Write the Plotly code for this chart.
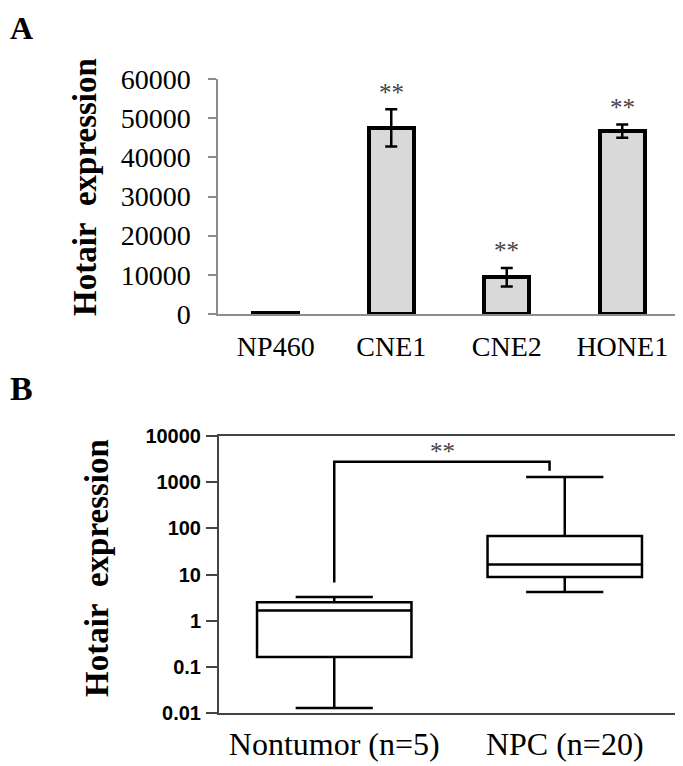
import numpy as np
import plotly.graph_objects as go

# Panel A: cell lines, Hotair expression (bar + SD)
cell_lines = ["NP460", "CNE1", "CNE2", "HONE1"]
expr_mean = [150, 47500, 9400, 46700]
expr_err = [0, 4750, 2350, 1700]
sig_a = ["", "**", "**", "**"]
yticks_a = [0, 10000, 20000, 30000, 40000, 50000, 60000]
ytick_text_a = ["0", "10000", "20000", "30000", "40000", "50000", "60000"]

# Panel B: tissue groups, box summary (log scale)
groups = ["Nontumor (n=5)", "NPC (n=20)"]
q1 = [0.163, 8.8]
median = [1.66, 16.4]
q3 = [2.52, 68.6]
low_whisker = [0.0128, 4.2]
high_whisker = [3.24, 1300]
yticks_b = [0.01, 0.1, 1, 10, 100, 1000, 10000]
ytick_text_b = ["0.01", "0.1", "1", "10", "100", "1000", "10000"]

# significance bracket between the two groups
bracket_x = [0, 0, 0.934, 0.934]
bracket_y = [6.7, 2780, 2780, 1775]

# the page body has an 8px margin, so the figure is shrunk to fit the window
OFF = 8
W, H = 683 - OFF, 766 - OFF
SERIF = "Liberation Serif, Times New Roman, serif"
SANS = "Liberation Sans, Arial, sans-serif"


def px(x):
    return (x - OFF) / W


def py(y):
    return 1 - (y - OFF) / H


fig = go.Figure()

fig.add_trace(
    go.Bar(
        x=cell_lines,
        y=expr_mean,
        width=0.39,
        marker=dict(color="#d9d9d9", line=dict(color="black", width=4)),
        error_y=dict(type="data", array=expr_err, color="black", thickness=2.5, width=6),
        xaxis="x",
        yaxis="y",
        showlegend=False,
    )
)

for i, g in enumerate(groups):
    fig.add_trace(
        go.Box(
            x=[i],
            q1=[q1[i]],
            median=[median[i]],
            q3=[q3[i]],
            lowerfence=[low_whisker[i]],
            upperfence=[high_whisker[i]],
            width=0.67,
            whiskerwidth=0.5,
            fillcolor="white",
            line=dict(color="black", width=2.5),
            boxpoints=False,
            xaxis="x2",
            yaxis="y2",
            showlegend=False,
        )
    )

fig.add_trace(
    go.Scatter(
        x=bracket_x,
        y=bracket_y,
        mode="lines",
        line=dict(color="black", width=2.5),
        xaxis="x2",
        yaxis="y2",
        showlegend=False,
        hoverinfo="skip",
    )
)

annotations = []
for name, m, e, s in zip(cell_lines, expr_mean, expr_err, sig_a):
    if s:
        annotations.append(
            dict(x=name, y=m + e, xref="x", yref="y", text=s, showarrow=False,
                 yanchor="middle", yshift=17, font=dict(family=SERIF, size=25, color="#444"))
        )

annotations.append(
    dict(x=0.47, y=np.log10(bracket_y[1]), xref="x2", yref="y2", text="**", showarrow=False,
         yanchor="middle", yshift=10, font=dict(family=SERIF, size=25, color="#444"))
)

# panel letters and y titles
annotations += [
    dict(x=0, y=1, xref="paper", yref="paper", text="<b>A</b>", showarrow=False,
         xanchor="left", yanchor="top", font=dict(family=SERIF, size=32, color="black")),
    dict(x=0, y=py(388), xref="paper", yref="paper", text="<b>B</b>", showarrow=False,
         xanchor="left", yanchor="middle", font=dict(family=SERIF, size=34, color="black")),
    dict(x=px(85), y=py(187), xref="paper", yref="paper", text="<b>Hotair&nbsp;&nbsp;expression</b>",
         textangle=-90, showarrow=False, xanchor="center", yanchor="middle",
         font=dict(family=SERIF, size=33, color="black")),
    dict(x=px(97), y=py(568), xref="paper", yref="paper", text="<b>Hotair&nbsp;&nbsp;expression</b>",
         textangle=-90, showarrow=False, xanchor="center", yanchor="middle",
         font=dict(family=SERIF, size=33, color="black")),
]

fig.update_layout(
    width=W,
    height=H,
    margin=dict(l=0, r=0, t=0, b=0, autoexpand=False),
    paper_bgcolor="white",
    plot_bgcolor="white",
    bargap=0,
    annotations=annotations,
    xaxis=dict(
        domain=[px(218), px(680)],
        anchor="y",
        type="category",
        range=[-0.5, 3.5],
        automargin=False,
        showline=True,
        linecolor="#8c8c8c",
        linewidth=1.5,
        ticks="",
        showgrid=False,
        zeroline=False,
        tickfont=dict(family=SERIF, size=28, color="black"),
        ticklabelstandoff=7,
    ),
    yaxis=dict(
        domain=[py(314), py(79)],
        anchor="x",
        range=[0, 60000],
        tickvals=yticks_a,
        ticktext=ytick_text_a,
        automargin=False,
        showline=True,
        linecolor="#8c8c8c",
        linewidth=1.5,
        ticks="outside",
        ticklen=8,
        tickcolor="#8c8c8c",
        tickwidth=1.5,
        showgrid=False,
        zeroline=False,
        tickfont=dict(family=SERIF, size=28, color="black"),
        ticklabelstandoff=12,
    ),
    xaxis2=dict(
        domain=[px(219), px(680)],
        anchor="y2",
        range=[-0.5, 1.5],
        tickvals=[0, 1],
        ticktext=groups,
        automargin=False,
        showline=True,
        mirror=True,
        linecolor="#444",
        linewidth=2,
        ticks="",
        showgrid=False,
        zeroline=False,
        tickfont=dict(family=SERIF, size=32, color="black"),
        ticklabelstandoff=2,
    ),
    yaxis2=dict(
        domain=[py(713), py(436)],
        anchor="x2",
        type="log",
        range=[-2, 4],
        tickvals=yticks_b,
        ticktext=ytick_text_b,
        automargin=False,
        showline=True,
        mirror=True,
        linecolor="#444",
        linewidth=2,
        ticks="outside",
        ticklen=11,
        tickcolor="#444",
        tickwidth=2,
        showgrid=False,
        zeroline=False,
        tickfont=dict(family=SANS, size=20, color="black", weight="bold"),
        ticklabelstandoff=1,
    ),
)

fig.write_html("out.html")
